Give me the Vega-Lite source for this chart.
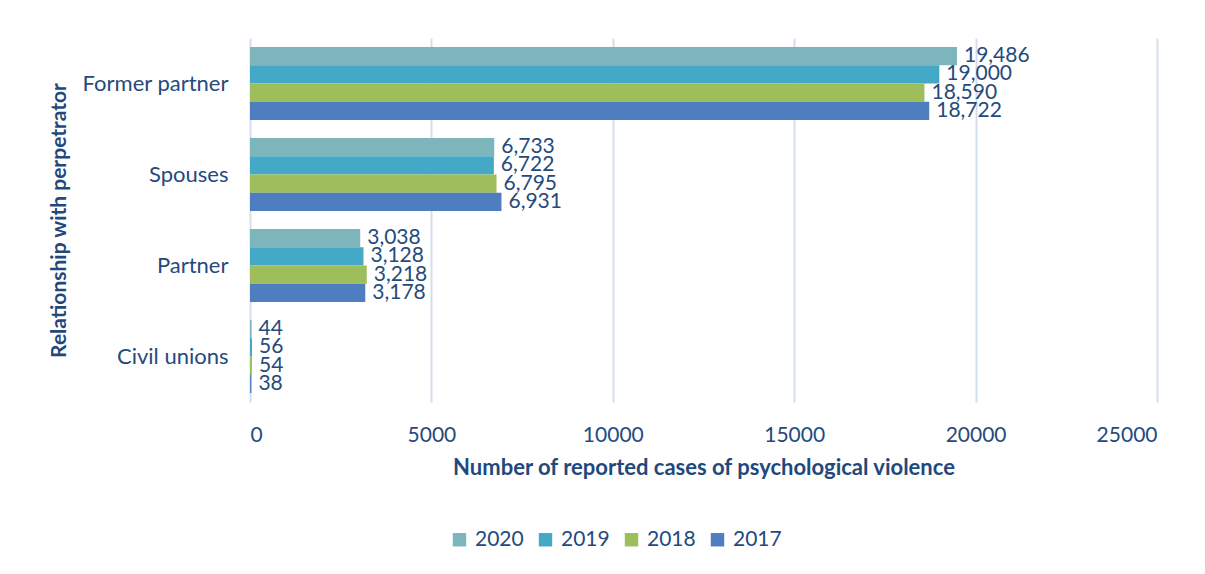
{
  "$schema": "https://vega.github.io/schema/vega-lite/v6.json",
  "autosize": {"type": "none"},
  "width": 907,
  "height": 364,
  "padding": {"left": 250, "top": 38, "right": 48, "bottom": 172},
  "background": "white",
  "config": {
    "font": "Lato",
    "view": {"stroke": null},
    "axis": {"labelFont": "Lato", "titleFont": "Lato"}
  },
  "data": {
    "values": [
      {"relationship": "Former partner", "year": "2020", "cases": 19486},
      {"relationship": "Former partner", "year": "2019", "cases": 19000},
      {"relationship": "Former partner", "year": "2018", "cases": 18590},
      {"relationship": "Former partner", "year": "2017", "cases": 18722},
      {"relationship": "Spouses", "year": "2020", "cases": 6733},
      {"relationship": "Spouses", "year": "2019", "cases": 6722},
      {"relationship": "Spouses", "year": "2018", "cases": 6795},
      {"relationship": "Spouses", "year": "2017", "cases": 6931},
      {"relationship": "Partner", "year": "2020", "cases": 3038},
      {"relationship": "Partner", "year": "2019", "cases": 3128},
      {"relationship": "Partner", "year": "2018", "cases": 3218},
      {"relationship": "Partner", "year": "2017", "cases": 3178},
      {"relationship": "Civil unions", "year": "2020", "cases": 44},
      {"relationship": "Civil unions", "year": "2019", "cases": 56},
      {"relationship": "Civil unions", "year": "2018", "cases": 54},
      {"relationship": "Civil unions", "year": "2017", "cases": 38}
    ]
  },
  "encoding": {
    "y": {
      "field": "relationship",
      "type": "nominal",
      "sort": ["Former partner", "Spouses", "Partner", "Civil unions"],
      "scale": {"paddingInner": 0.2, "paddingOuter": 0.1},
      "axis": {
        "title": "Relationship with perpetrator",
        "titleFontSize": 21,
        "titleFontWeight": "bold",
        "titleColor": "#1F497D",
        "titlePadding": 12,
        "labelFontSize": 22,
        "labelColor": "#254A7C",
        "labelPadding": 22,
        "ticks": false,
        "domain": false
      }
    },
    "yOffset": {
      "field": "year",
      "type": "nominal",
      "sort": ["2020", "2019", "2018", "2017"]
    },
    "x": {
      "field": "cases",
      "type": "quantitative",
      "scale": {"domain": [0, 25000], "nice": false},
      "axis": {
        "title": "Number of reported cases of psychological violence",
        "titleFontSize": 22,
        "titleFontWeight": "bold",
        "titleColor": "#1F497D",
        "titlePadding": 12,
        "values": [0, 5000, 10000, 15000, 20000, 25000],
        "format": "d",
        "labelFontSize": 21,
        "labelColor": "#254A7C",
        "labelPadding": 22,
        "ticks": false,
        "domain": false,
        "grid": true,
        "gridColor": "#D3DFF0",
        "gridWidth": 2
      }
    }
  },
  "layer": [
    {
      "mark": {"type": "bar"},
      "encoding": {
        "color": {
          "field": "year",
          "type": "nominal",
          "scale": {
            "domain": ["2020", "2019", "2018", "2017"],
            "range": ["#7DB5BD", "#43A9C6", "#9DBE5A", "#4E7EC0"]
          },
          "legend": {
            "title": null,
            "orient": "none",
            "direction": "horizontal",
            "legendX": 199,
            "legendY": 491,
            "symbolType": "square",
            "symbolSize": 180,
            "symbolStrokeWidth": 0,
            "labelFontSize": 21,
            "labelColor": "#254A7C",
            "labelOffset": 5,
            "columnPadding": 11
          }
        }
      }
    },
    {
      "mark": {"type": "text", "align": "left", "baseline": "middle", "dx": 7, "fontSize": 21, "color": "#254A7C"},
      "encoding": {
        "text": {"field": "cases", "type": "quantitative", "format": ","}
      }
    }
  ]
}
